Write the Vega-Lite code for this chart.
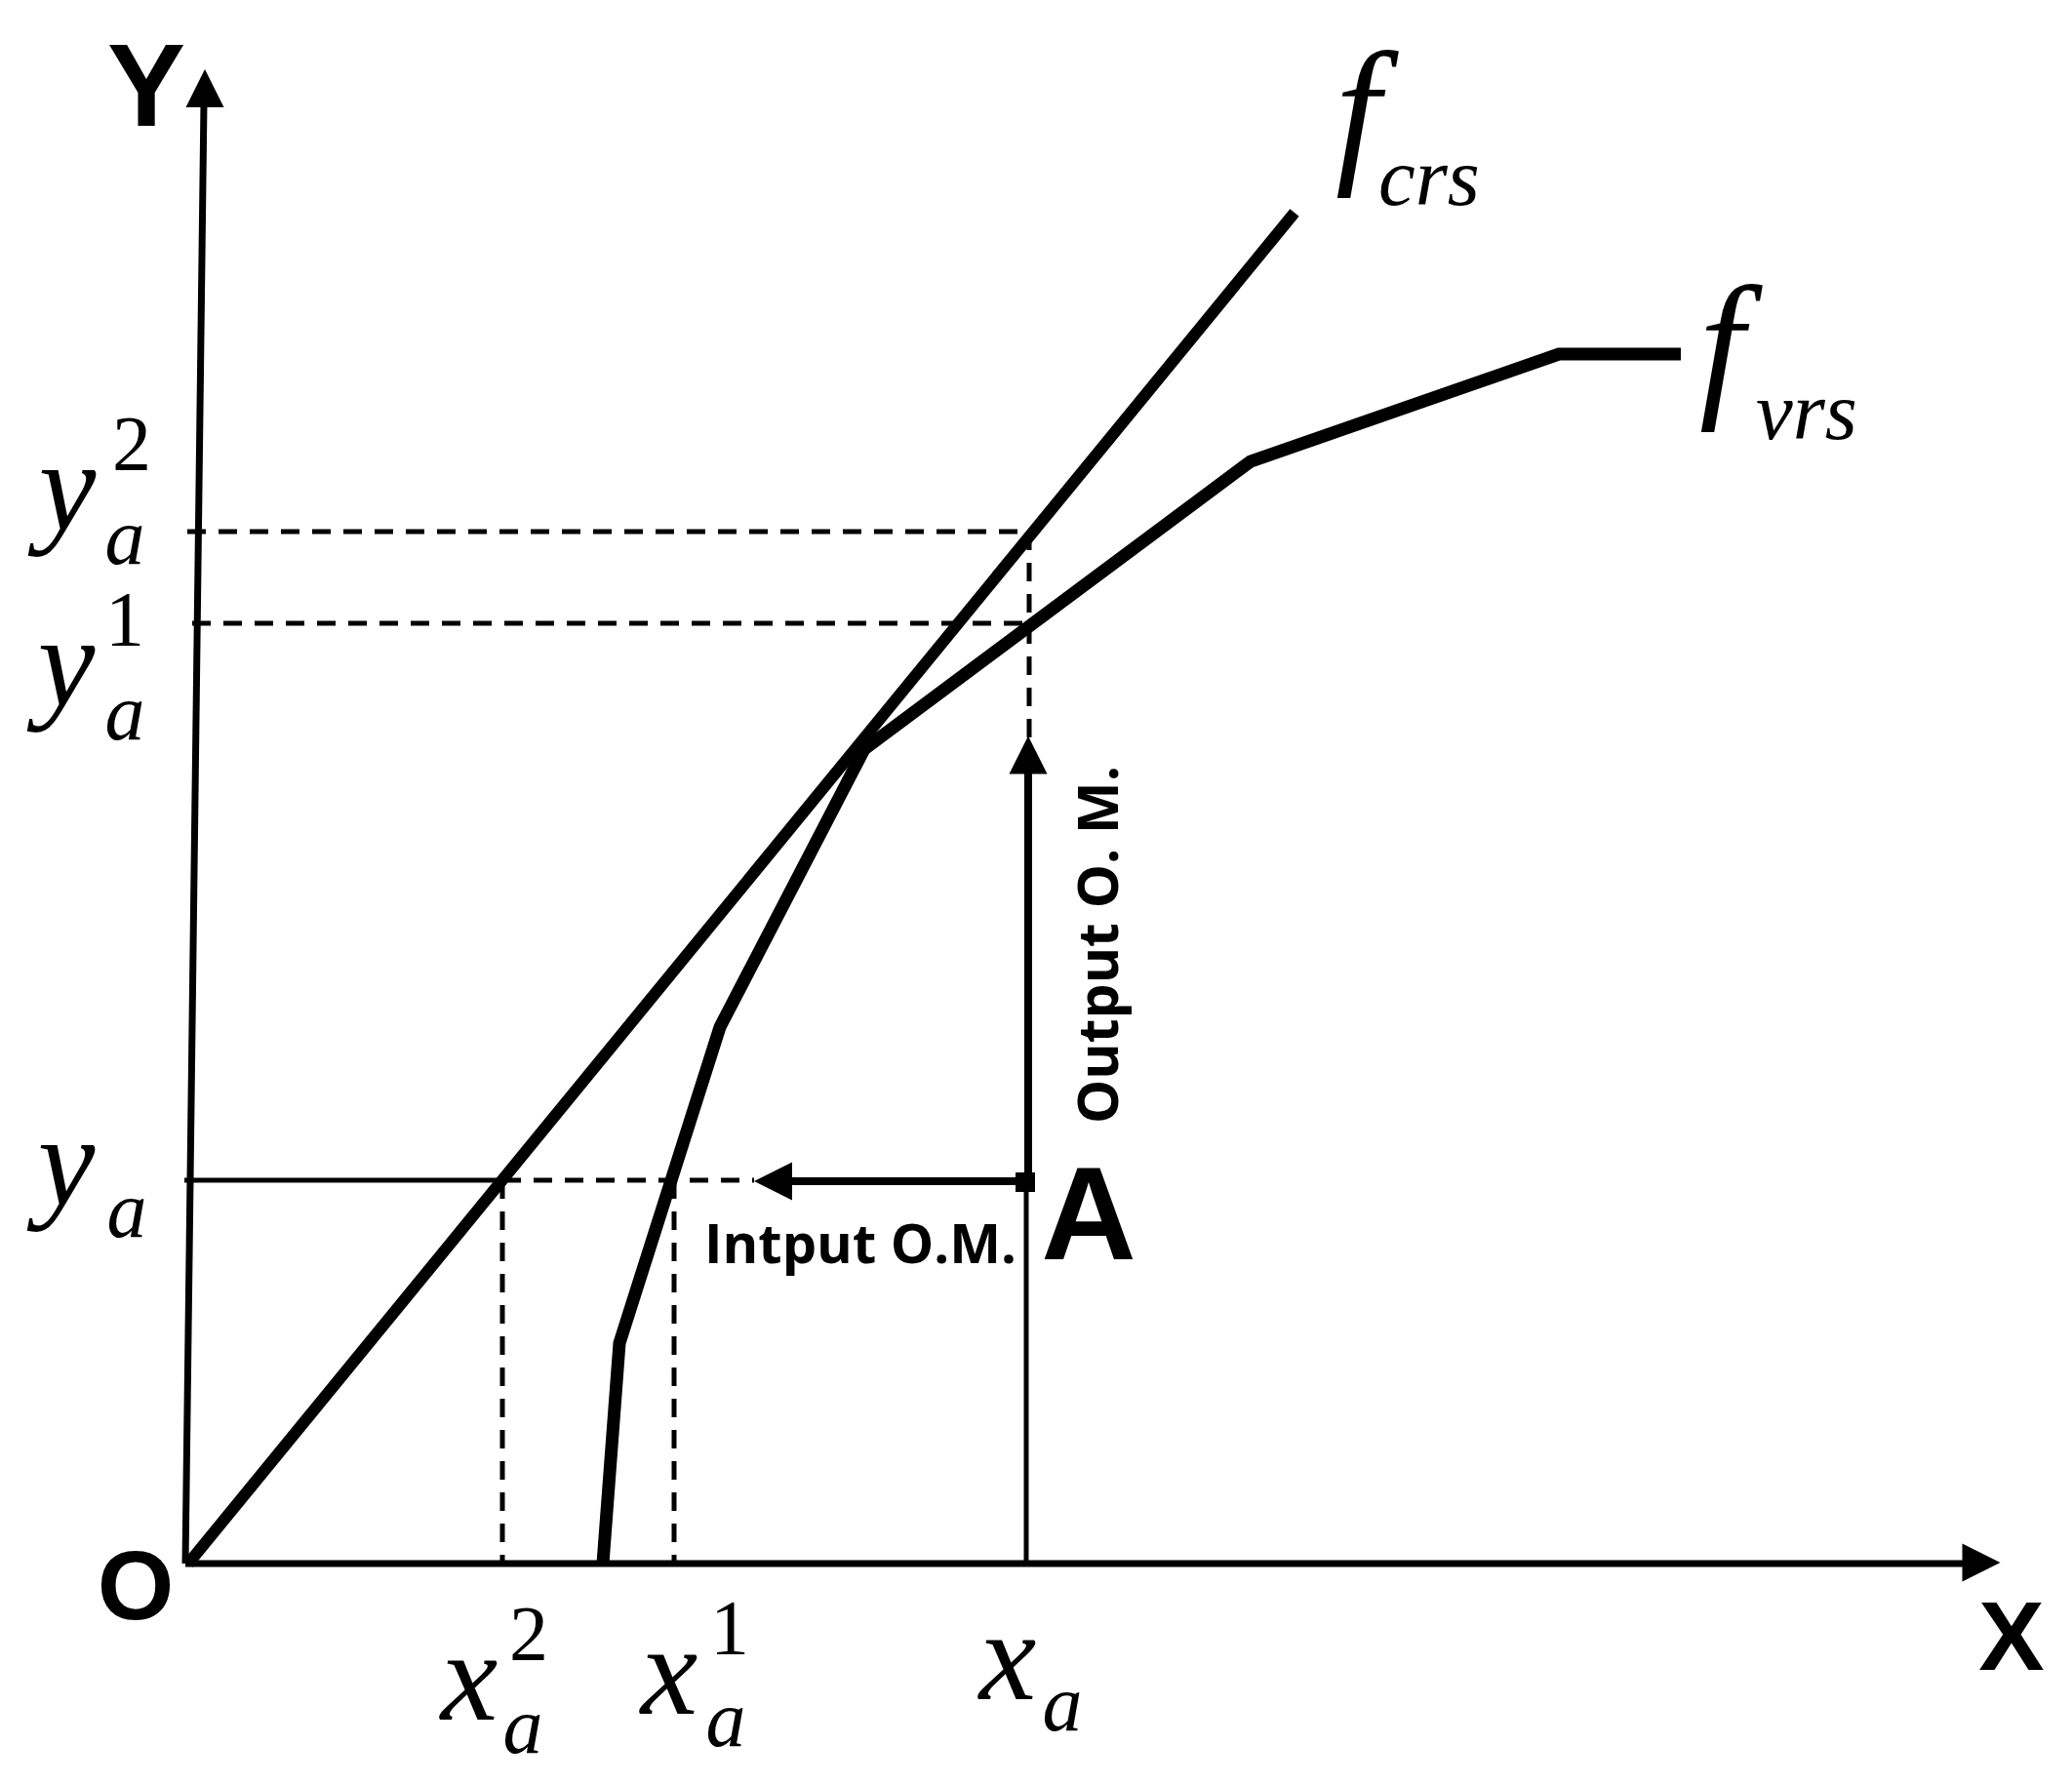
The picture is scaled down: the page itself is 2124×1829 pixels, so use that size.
{
  "$schema": "https://vega.github.io/schema/vega-lite/v6.json",
  "width": 2124,
  "height": 1829,
  "autosize": {"type": "none"},
  "padding": 0,
  "background": "white",
  "config": {"view": {"stroke": null}},
  "datasets": {
    "axes": [
      {"name": "X axis", "x": -0.3, "y": 0, "x2": 182.2, "y2": 0},
      {"name": "Y axis", "x": -0.3, "y": 0, "x2": 1.6, "y2": 149.8}
    ],
    "crs": [
      {"name": "f_crs", "x": 0, "y": 0, "x2": 113.4, "y2": 138.5}
    ],
    "vrs": [
      {"seq": 1, "x": 42.5, "y": 0},
      {"seq": 2, "x": 44.2, "y": 22.6},
      {"seq": 3, "x": 54.5, "y": 55.0},
      {"seq": 4, "x": 69.3, "y": 83.5},
      {"seq": 5, "x": 108.9, "y": 113.0},
      {"seq": 6, "x": 140.5, "y": 124.0},
      {"seq": 7, "x": 153.0, "y": 124.0}
    ],
    "thin": [
      {"name": "ya level", "x": -0.4, "y": 39.3, "x2": 32.2, "y2": 39.3},
      {"name": "xa drop", "x": 85.9, "y": 0, "x2": 85.9, "y2": 39.1}
    ],
    "shafts": [
      {"name": "input", "x": 61.9, "y": 39.2, "x2": 85.9, "y2": 39.2},
      {"name": "output", "x": 86.1, "y": 39.1, "x2": 86.1, "y2": 81.1}
    ],
    "dashed": [
      {"name": "ya dashed", "x": 32.2, "y": 39.3, "x2": 58.0, "y2": 39.3},
      {"name": "ya2", "x": -0.1, "y": 105.8, "x2": 86.4, "y2": 105.8},
      {"name": "ya1", "x": 0.4, "y": 96.4, "x2": 86.0, "y2": 96.4},
      {"name": "output dashed", "x": 86.2, "y": 105.8, "x2": 86.2, "y2": 84.7},
      {"name": "xa2", "x": 32.2, "y": 39.3, "x2": 32.2, "y2": 0},
      {"name": "xa1", "x": 49.8, "y": 39.3, "x2": 49.8, "y2": 0}
    ],
    "arrows": [
      {"dir": "up", "x": 1.7, "y": 151.25},
      {"dir": "right", "x": 183.8, "y": 0.1},
      {"dir": "left", "x": 59.95, "y": 39.2},
      {"dir": "up", "x": 86.1, "y": 82.9}
    ],
    "point": [
      {"label": "A", "x": 85.8, "y": 39.1}
    ],
    "bigY": [
      {"text": "Y", "x": -4.3, "y": 147.4}
    ],
    "axisLetters": [
      {"text": "X", "x": 186.9, "y": -10.9},
      {"text": "O", "x": -5.4, "y": -5.7}
    ],
    "pointLabel": [
      {"text": "A", "x": 92.3, "y": 31.2}
    ],
    "mathMain": [
      {"text": "y", "x": -12.4, "y": 106.0},
      {"text": "y", "x": -12.5, "y": 88.0},
      {"text": "y", "x": -12.5, "y": 36.8},
      {"text": "x", "x": 28.8, "y": -16.0},
      {"text": "x", "x": 49.3, "y": -15.4},
      {"text": "x", "x": 84.0, "y": -13.9}
    ],
    "mathSub": [
      {"text": "a", "x": -6.5, "y": 102.5},
      {"text": "a", "x": -6.5, "y": 84.5},
      {"text": "a", "x": -6.3, "y": 33.5},
      {"text": "a", "x": 34.3, "y": -19.4},
      {"text": "a", "x": 55.1, "y": -18.7},
      {"text": "a", "x": 89.6, "y": -17.1}
    ],
    "mathSup": [
      {"text": "2", "x": -5.8, "y": 112.1},
      {"text": "1", "x": -6.5, "y": 94.1},
      {"text": "2", "x": 34.9, "y": -9.9},
      {"text": "1", "x": 55.5, "y": -9.3}
    ],
    "fMain": [
      {"text": "f", "x": 119.9, "y": 143.5},
      {"text": "f", "x": 157.2, "y": 119.5}
    ],
    "fSub": [
      {"text": "crs", "x": 122.0, "y": 139.3},
      {"text": "vrs", "x": 160.7, "y": 115.3}
    ],
    "noteH": [
      {"text": "Intput O.M.", "x": 52.9, "y": 30.8}
    ],
    "noteV": [
      {"text": "Output O. M.", "x": 95.3, "y": 45.1}
    ]
  },
  "layer": [
    {
      "data": {"name": "dashed"},
      "mark": {"type": "rule", "color": "black", "strokeWidth": 5, "strokeDash": [19, 13]},
      "encoding": {
        "x": {"field": "x", "type": "quantitative", "scale": {"domain": [-19.3, 193.1], "nice": false, "zero": false}, "axis": null},
        "y": {"field": "y", "type": "quantitative", "scale": {"domain": [-22.6, 160.3], "nice": false, "zero": false}, "axis": null},
        "x2": {"field": "x2"},
        "y2": {"field": "y2"}
      }
    },
    {
      "data": {"name": "thin"},
      "mark": {"type": "rule", "color": "black", "strokeWidth": 5},
      "encoding": {
        "x": {"field": "x", "type": "quantitative", "scale": {"domain": [-19.3, 193.1], "nice": false, "zero": false}, "axis": null},
        "y": {"field": "y", "type": "quantitative", "scale": {"domain": [-22.6, 160.3], "nice": false, "zero": false}, "axis": null},
        "x2": {"field": "x2"},
        "y2": {"field": "y2"}
      }
    },
    {
      "data": {"name": "shafts"},
      "mark": {"type": "rule", "color": "black", "strokeWidth": 8},
      "encoding": {
        "x": {"field": "x", "type": "quantitative", "scale": {"domain": [-19.3, 193.1], "nice": false, "zero": false}, "axis": null},
        "y": {"field": "y", "type": "quantitative", "scale": {"domain": [-22.6, 160.3], "nice": false, "zero": false}, "axis": null},
        "x2": {"field": "x2"},
        "y2": {"field": "y2"}
      }
    },
    {
      "data": {"name": "axes"},
      "mark": {"type": "rule", "color": "black", "strokeWidth": 7},
      "encoding": {
        "x": {"field": "x", "type": "quantitative", "scale": {"domain": [-19.3, 193.1], "nice": false, "zero": false}, "axis": null},
        "y": {"field": "y", "type": "quantitative", "scale": {"domain": [-22.6, 160.3], "nice": false, "zero": false}, "axis": null},
        "x2": {"field": "x2"},
        "y2": {"field": "y2"}
      }
    },
    {
      "data": {"name": "crs"},
      "mark": {"type": "rule", "color": "black", "strokeWidth": 12},
      "encoding": {
        "x": {"field": "x", "type": "quantitative", "scale": {"domain": [-19.3, 193.1], "nice": false, "zero": false}, "axis": null},
        "y": {"field": "y", "type": "quantitative", "scale": {"domain": [-22.6, 160.3], "nice": false, "zero": false}, "axis": null},
        "x2": {"field": "x2"},
        "y2": {"field": "y2"}
      }
    },
    {
      "data": {"name": "vrs"},
      "mark": {"type": "line", "color": "black", "strokeWidth": 13, "strokeJoin": "miter"},
      "encoding": {
        "x": {"field": "x", "type": "quantitative", "scale": {"domain": [-19.3, 193.1], "nice": false, "zero": false}, "axis": null},
        "y": {"field": "y", "type": "quantitative", "scale": {"domain": [-22.6, 160.3], "nice": false, "zero": false}, "axis": null},
        "order": {"field": "seq", "type": "quantitative"}
      }
    },
    {
      "data": {"name": "arrows"},
      "transform": [{"filter": "datum.dir == 'up'"}],
      "mark": {"type": "point", "shape": "M0,-1L-1,1L1,1Z", "size": 1521, "filled": true, "color": "black", "opacity": 1, "strokeWidth": 0, "angle": 0},
      "encoding": {
        "x": {"field": "x", "type": "quantitative", "scale": {"domain": [-19.3, 193.1], "nice": false, "zero": false}, "axis": null},
        "y": {"field": "y", "type": "quantitative", "scale": {"domain": [-22.6, 160.3], "nice": false, "zero": false}, "axis": null}
      }
    },
    {
      "data": {"name": "arrows"},
      "transform": [{"filter": "datum.dir == 'right'"}],
      "mark": {"type": "point", "shape": "M0,-1L-1,1L1,1Z", "size": 1521, "filled": true, "color": "black", "opacity": 1, "strokeWidth": 0, "angle": 90},
      "encoding": {
        "x": {"field": "x", "type": "quantitative", "scale": {"domain": [-19.3, 193.1], "nice": false, "zero": false}, "axis": null},
        "y": {"field": "y", "type": "quantitative", "scale": {"domain": [-22.6, 160.3], "nice": false, "zero": false}, "axis": null}
      }
    },
    {
      "data": {"name": "arrows"},
      "transform": [{"filter": "datum.dir == 'left'"}],
      "mark": {"type": "point", "shape": "M0,-1L-1,1L1,1Z", "size": 1521, "filled": true, "color": "black", "opacity": 1, "strokeWidth": 0, "angle": 270},
      "encoding": {
        "x": {"field": "x", "type": "quantitative", "scale": {"domain": [-19.3, 193.1], "nice": false, "zero": false}, "axis": null},
        "y": {"field": "y", "type": "quantitative", "scale": {"domain": [-22.6, 160.3], "nice": false, "zero": false}, "axis": null}
      }
    },
    {
      "data": {"name": "point"},
      "mark": {"type": "point", "shape": "square", "size": 400, "filled": true, "color": "black", "opacity": 1, "strokeWidth": 0},
      "encoding": {
        "x": {"field": "x", "type": "quantitative", "scale": {"domain": [-19.3, 193.1], "nice": false, "zero": false}, "axis": null},
        "y": {"field": "y", "type": "quantitative", "scale": {"domain": [-22.6, 160.3], "nice": false, "zero": false}, "axis": null}
      }
    },
    {
      "data": {"name": "bigY"},
      "mark": {"type": "text", "font": "Liberation Sans", "fontWeight": "bold", "fontSize": 120, "align": "center", "baseline": "alphabetic", "color": "black"},
      "encoding": {
        "x": {"field": "x", "type": "quantitative", "scale": {"domain": [-19.3, 193.1], "nice": false, "zero": false}, "axis": null},
        "y": {"field": "y", "type": "quantitative", "scale": {"domain": [-22.6, 160.3], "nice": false, "zero": false}, "axis": null},
        "text": {"field": "text"}
      }
    },
    {
      "data": {"name": "axisLetters"},
      "mark": {"type": "text", "font": "Liberation Sans", "fontWeight": "bold", "fontSize": 101, "align": "center", "baseline": "alphabetic", "color": "black"},
      "encoding": {
        "x": {"field": "x", "type": "quantitative", "scale": {"domain": [-19.3, 193.1], "nice": false, "zero": false}, "axis": null},
        "y": {"field": "y", "type": "quantitative", "scale": {"domain": [-22.6, 160.3], "nice": false, "zero": false}, "axis": null},
        "text": {"field": "text"}
      }
    },
    {
      "data": {"name": "pointLabel"},
      "mark": {"type": "text", "font": "Liberation Sans", "fontWeight": "bold", "fontSize": 135, "align": "center", "baseline": "alphabetic", "color": "black"},
      "encoding": {
        "x": {"field": "x", "type": "quantitative", "scale": {"domain": [-19.3, 193.1], "nice": false, "zero": false}, "axis": null},
        "y": {"field": "y", "type": "quantitative", "scale": {"domain": [-22.6, 160.3], "nice": false, "zero": false}, "axis": null},
        "text": {"field": "text"}
      }
    },
    {
      "data": {"name": "mathMain"},
      "mark": {"type": "text", "font": "Liberation Serif", "fontStyle": "italic", "fontSize": 132, "align": "center", "baseline": "alphabetic", "color": "black"},
      "encoding": {
        "x": {"field": "x", "type": "quantitative", "scale": {"domain": [-19.3, 193.1], "nice": false, "zero": false}, "axis": null},
        "y": {"field": "y", "type": "quantitative", "scale": {"domain": [-22.6, 160.3], "nice": false, "zero": false}, "axis": null},
        "text": {"field": "text"}
      }
    },
    {
      "data": {"name": "mathSub"},
      "mark": {"type": "text", "font": "Liberation Serif", "fontStyle": "italic", "fontSize": 82, "align": "center", "baseline": "alphabetic", "color": "black"},
      "encoding": {
        "x": {"field": "x", "type": "quantitative", "scale": {"domain": [-19.3, 193.1], "nice": false, "zero": false}, "axis": null},
        "y": {"field": "y", "type": "quantitative", "scale": {"domain": [-22.6, 160.3], "nice": false, "zero": false}, "axis": null},
        "text": {"field": "text"}
      }
    },
    {
      "data": {"name": "mathSup"},
      "mark": {"type": "text", "font": "Liberation Serif", "fontSize": 80, "align": "center", "baseline": "alphabetic", "color": "black"},
      "encoding": {
        "x": {"field": "x", "type": "quantitative", "scale": {"domain": [-19.3, 193.1], "nice": false, "zero": false}, "axis": null},
        "y": {"field": "y", "type": "quantitative", "scale": {"domain": [-22.6, 160.3], "nice": false, "zero": false}, "axis": null},
        "text": {"field": "text"}
      }
    },
    {
      "data": {"name": "fMain"},
      "mark": {"type": "text", "font": "Liberation Serif", "fontStyle": "italic", "fontSize": 165, "align": "center", "baseline": "alphabetic", "color": "black"},
      "encoding": {
        "x": {"field": "x", "type": "quantitative", "scale": {"domain": [-19.3, 193.1], "nice": false, "zero": false}, "axis": null},
        "y": {"field": "y", "type": "quantitative", "scale": {"domain": [-22.6, 160.3], "nice": false, "zero": false}, "axis": null},
        "text": {"field": "text"}
      }
    },
    {
      "data": {"name": "fSub"},
      "mark": {"type": "text", "font": "Liberation Serif", "fontStyle": "italic", "fontSize": 85, "align": "left", "baseline": "alphabetic", "color": "black"},
      "encoding": {
        "x": {"field": "x", "type": "quantitative", "scale": {"domain": [-19.3, 193.1], "nice": false, "zero": false}, "axis": null},
        "y": {"field": "y", "type": "quantitative", "scale": {"domain": [-22.6, 160.3], "nice": false, "zero": false}, "axis": null},
        "text": {"field": "text"}
      }
    },
    {
      "data": {"name": "noteH"},
      "mark": {"type": "text", "font": "Open Sans", "fontWeight": "bold", "fontSize": 56, "align": "left", "baseline": "alphabetic", "color": "black"},
      "encoding": {
        "x": {"field": "x", "type": "quantitative", "scale": {"domain": [-19.3, 193.1], "nice": false, "zero": false}, "axis": null},
        "y": {"field": "y", "type": "quantitative", "scale": {"domain": [-22.6, 160.3], "nice": false, "zero": false}, "axis": null},
        "text": {"field": "text"}
      }
    },
    {
      "data": {"name": "noteV"},
      "mark": {"type": "text", "font": "Open Sans", "fontWeight": "bold", "fontSize": 57, "align": "left", "baseline": "alphabetic", "angle": 270, "color": "black"},
      "encoding": {
        "x": {"field": "x", "type": "quantitative", "scale": {"domain": [-19.3, 193.1], "nice": false, "zero": false}, "axis": null},
        "y": {"field": "y", "type": "quantitative", "scale": {"domain": [-22.6, 160.3], "nice": false, "zero": false}, "axis": null},
        "text": {"field": "text"}
      }
    }
  ]
}
